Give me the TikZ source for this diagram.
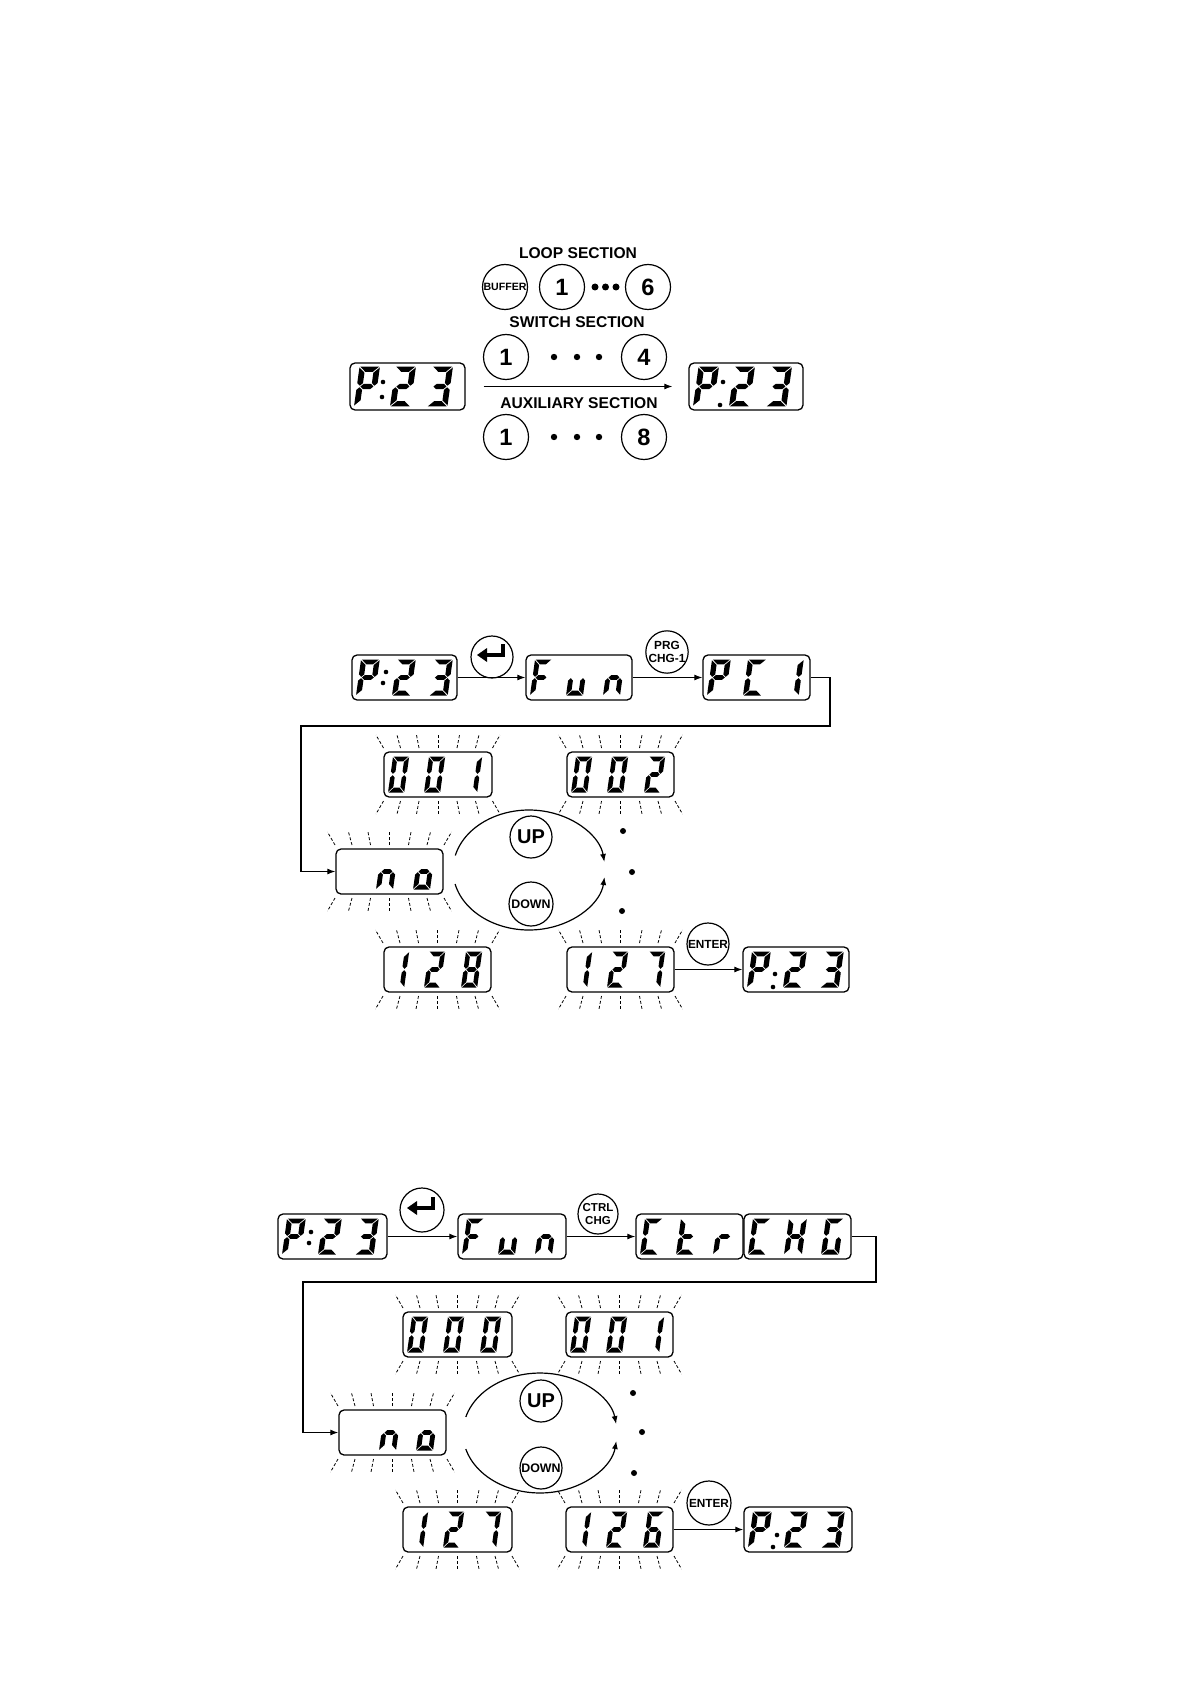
\documentclass[tikz,border=0pt]{standalone}
\usepackage{fontspec}
\setmainfont{Liberation Sans}
\usetikzlibrary{arrows.meta,calc}

\tikzset{
  lcdbox/.style={draw, rounded corners=2.5pt, line width=0.65pt, inner sep=0pt},
  btn/.style={draw, circle, line width=0.6pt, inner sep=0pt, font=\bfseries},
  flow/.style={line width=0.6pt, -{Latex[length=4pt,width=3pt]}},
  ray/.style={line width=0.4pt, dash pattern=on 1.5pt off 1pt},
  sectitle/.style={font=\bfseries\fontsize{7.8}{9}\selectfont, inner sep=0pt},
  bignum/.style={btn, minimum size=22.5pt, font=\bfseries\fontsize{11.8}{13}\selectfont},
  smallkey/.style={btn, align=center, font=\bfseries\fontsize{5.9}{6.4}\selectfont},
}

% seven-segment pieces (local units: px, y up), width 17, height 36, thickness 4.8
\def\SGa{\fill (0.7,36) -- (16.3,36) -- (11.5,31.2) -- (5.5,31.2) -- cycle;}
\def\SGd{\fill (0.7,0) -- (16.3,0) -- (11.5,4.8) -- (5.5,4.8) -- cycle;}
\def\SGg{\fill (3.1,18) -- (5.5,20.4) -- (11.5,20.4) -- (13.9,18) -- (11.5,15.6) -- (5.5,15.6) -- cycle;}
\def\SGf{\fill (0,35.3) -- (4.8,30.5) -- (4.8,21.1) -- (2.4,18.7) -- (0,21.1) -- cycle;}
\def\SGe{\fill (0,0.7) -- (4.8,5.5) -- (4.8,14.9) -- (2.4,17.3) -- (0,14.9) -- cycle;}
\def\SGb{\fill (17,35.3) -- (12.2,30.5) -- (12.2,21.1) -- (14.6,18.7) -- (17,21.1) -- cycle;}
\def\SGc{\fill (17,0.7) -- (12.2,5.5) -- (12.2,14.9) -- (14.6,17.3) -- (17,14.9) -- cycle;}

\def\chP{\SGa\SGb\SGf\SGg\SGe}
\def\chTwo{\SGa\SGb\SGg\SGe\SGd}
\def\chThree{\SGa\SGb\SGg\SGc\SGd}
\def\chF{\SGa\SGf\SGg\SGe}
\def\chu{\SGe\SGd\SGc}
\def\chn{\SGe\SGg\SGc}
\def\cho{\SGg\SGc\SGd\SGe}
\def\chC{\SGa\SGf\SGe\SGd}
\def\chOne{\SGb\SGc}
\def\chZero{\SGa\SGb\SGc\SGd\SGe\SGf}
\def\chSix{\SGa\SGf\SGg\SGe\SGd\SGc}
\def\chSeven{\SGa\SGb\SGc}
\def\chEight{\SGa\SGb\SGc\SGd\SGe\SGf\SGg}
\def\cht{\SGf\SGg\SGe\SGd}
\def\chr{\SGe\SGg}
\def\chH{\SGb\SGc\SGe\SGf\SGg}
\def\chG{\SGa\SGf\SGe\SGd\SGc}

% #1 xscale, #2 yscale, #3 x, #4 baseline y, #5 glyph
\newcommand\dig[5]{%
  \begin{scope}[shift={(#3,#4)}, x={(#1*0.5pt,0pt)}, y={(#2*0.07pt,#2*0.5pt)}]
    #5
  \end{scope}}

\def\lcdh{45}
\def\lcdys{1}
% name, left, top, width, xscale, d1, d2, d3
\newcommand\lcd[8]{%
  \node[lcdbox, minimum width=#4*0.5pt, minimum height=\lcdh*0.5pt] (#1) at (#2+#4/2, #3+\lcdh/2) {};
  \ifx\relax#6\relax\else\dig{#5}{\lcdys}{#2+4}{#3+\lcdh/2+18*\lcdys}{#6}\fi
  \ifx\relax#7\relax\else\dig{#5}{\lcdys}{#2+40}{#3+\lcdh/2+18*\lcdys}{#7}\fi
  \ifx\relax#8\relax\else\dig{#5}{\lcdys}{#2+77}{#3+\lcdh/2+18*\lcdys}{#8}\fi
}
\newcommand\colondots[4]{\fill (#1,#2) circle (2.3); \fill (#3,#4) circle (2.3);}
% left, top, width
\newcommand\rays[3]{%
  \foreach \b/\t in {-54.5/-62,-37.5/-41,-19/-21.5,0/0,19/21.5,37.5/41,54.5/62}{
    \draw[ray] (#1+#3/2+\b, #2-4) -- (#1+#3/2+\t, #2-17);
    \draw[ray] (#1+#3/2+\b, #2+\lcdh+4) -- (#1+#3/2+\t, #2+\lcdh+17);
  }}
\newcommand\entersym[1]{%
  \draw[line width=2pt] ([shift={(10.5,-13)}]#1.center) -- ([shift={(10.5,-2)}]#1.center) -- ([shift={(-6,-2)}]#1.center);
  \fill ([shift={(-15,-2)}]#1.center) -- ([shift={(-5,-9)}]#1.center) -- ([shift={(-5,5)}]#1.center) -- cycle;}

\begin{document}
\begin{tikzpicture}[x=0.5pt, y=-0.5pt]
\useasboundingbox (0,0) rectangle (1190,1684);
\fill[white] (0,0) rectangle (1190,1684);

%================ Section 1 =================
\def\lcdh{47}\def\lcdys{1.1}
\lcd{sA}{350}{363}{115}{1.2}{\chP}{\chTwo}{\chThree}
\colondots{383}{382}{382}{397}
\lcd{sB}{689}{363}{114}{1.2}{\chP}{\chTwo}{\chThree}
\colondots{723}{382}{720}{405}

\node[sectitle] (loopT) at (578,253) {LOOP SECTION};
\node[btn, minimum size=22.5pt, font=\bfseries\fontsize{5.3}{6}\selectfont] (buf) at (505,287) {BUFFER};
\node[bignum] (loop1) at (562,287) {1};
\foreach \xx in {595,605.5,616} \fill (\xx,287) circle (3.5);
\node[bignum] (loop6) at (648,287) {6};

\node[sectitle] (swT) at (577,322) {SWITCH SECTION};
\node[bignum] (sw1) at (506,357) {1};
\foreach \xx in {554,577,599} \fill (\xx,357) circle (3.2);
\node[bignum] (sw4) at (644,357) {4};

\draw[flow, shorten <=9pt, shorten >=8pt] (sA.east) -- (sB.west);

\node[sectitle] (auxT) at (579,403) {AUXILIARY SECTION};
\node[bignum] (aux1) at (506,437) {1};
\foreach \xx in {554,577,599} \fill (\xx,437) circle (3.2);
\node[bignum] (aux8) at (644,437) {8};

%================ Section 2 =================
\def\lcdh{45}\def\lcdys{1}
\lcd{pA}{352}{655}{105}{1.1}{\chP}{\chTwo}{\chThree}
\colondots{386}{672}{383}{683}
\node[btn, minimum size=21pt] (entA) at (492,657) {};
\entersym{entA}
\lcd{funA}{526}{655}{106}{1.0}{\chF}{\chu}{\chn}
\node[smallkey, minimum size=21pt] (prg) at (667,652) {PRG\\CHG-1};
\lcd{pcA}{703}{655}{107}{1.1}{\chP}{\chC}{\chOne}
\draw[flow] (pA) -- (funA);
\draw[flow] (funA) -- (pcA);

\lcd{noA}{336}{849}{107}{1.0}{}{\chn}{\cho}
\rays{336}{849}{107}
\coordinate (cA1) at (830,726);
\coordinate (cA2) at (301,726);
\draw[flow] (pcA.east) -| (cA1) -- (cA2) |- (noA.west);

\lcd{vA1}{384}{752}{108}{0.95}{\chZero}{\chZero}{\chOne}
\rays{384}{752}{108}
\lcd{vA2}{567}{752}{107}{0.95}{\chZero}{\chZero}{\chTwo}
\rays{567}{752}{107}
\lcd{vA3}{384}{947}{107}{0.95}{\chOne}{\chTwo}{\chEight}
\rays{384}{947}{107}
\lcd{vA4}{567}{947}{107}{0.95}{\chOne}{\chTwo}{\chSeven}
\rays{567}{947}{107}
\lcd{fA}{743}{947}{106}{1.1}{\chP}{\chTwo}{\chThree}
\colondots{775}{974}{773}{987}
\node[smallkey, minimum size=21pt] (enterA) at (708,944) {ENTER};
\draw[flow] (vA4) -- (fA);

\node[btn, minimum size=21pt, font=\bfseries\fontsize{10}{11}\selectfont] (upA) at (531,837) {UP};
\node[btn, minimum size=22pt, font=\bfseries\fontsize{6.2}{7}\selectfont] (downA) at (531,904) {DOWN};
\draw[flow] (455.3,855.5) arc[start angle=-166, end angle=-7.7, x radius=76, y radius=60];
\draw[flow] (455.1,884) arc[start angle=166.5, end angle=6.7, x radius=76, y radius=60];
\fill (623,831) circle (3);
\fill (632,872) circle (3);
\fill (622,911) circle (3);

%================ Section 3 =================
\lcd{pB}{278}{1214}{109}{1.1}{\chP}{\chTwo}{\chThree}
\colondots{311}{1232}{309}{1243}
\node[btn, minimum size=22pt] (entB) at (422,1210) {};
\entersym{entB}
\lcd{funB}{458}{1214}{108}{1.0}{\chF}{\chu}{\chn}
\node[smallkey, minimum size=20pt, font=\bfseries\fontsize{5.75}{6.4}\selectfont] (ctrl) at (598,1214) {CTRL\\CHG};
\lcd{ctrB}{636}{1214}{107}{1.05}{\chC}{\cht}{\chr}
\lcd{chgB}{744}{1214}{107}{1.05}{\chC}{\chH}{\chG}
\draw[flow] (pB) -- (funB);
\draw[flow] (funB) -- (ctrB);

\lcd{noB}{339}{1410}{107}{1.0}{}{\chn}{\cho}
\rays{339}{1410}{107}
\coordinate (cB1) at (876,1282);
\coordinate (cB2) at (303,1282);
\draw[flow] (chgB.east) -| (cB1) -- (cB2) |- (noB.west);

\lcd{vB1}{403}{1312}{109}{0.95}{\chZero}{\chZero}{\chZero}
\rays{403}{1312}{109}
\lcd{vB2}{566}{1312}{107}{0.95}{\chZero}{\chZero}{\chOne}
\rays{566}{1312}{107}
\lcd{vB3}{403}{1507}{109}{0.95}{\chOne}{\chTwo}{\chSeven}
\rays{403}{1507}{109}
\lcd{vB4}{566}{1507}{107}{0.95}{\chOne}{\chTwo}{\chSix}
\rays{566}{1507}{107}
\lcd{fB}{744}{1507}{108}{1.1}{\chP}{\chTwo}{\chThree}
\colondots{777}{1535}{773}{1547}
\node[smallkey, minimum size=22pt] (enterB) at (709,1503) {ENTER};
\draw[flow] (vB4) -- (fB);

\node[btn, minimum size=21pt, font=\bfseries\fontsize{10}{11}\selectfont] (upB) at (541,1401) {UP};
\node[btn, minimum size=21pt, font=\bfseries\fontsize{6.2}{7}\selectfont] (downB) at (541,1468) {DOWN};
\draw[flow] (465.8,1417) arc[start angle=-164.5, end angle=-8.6, x radius=77, y radius=60];
\draw[flow] (465.8,1449) arc[start angle=164.5, end angle=7.7, x radius=77, y radius=60];
\fill (633,1393) circle (3);
\fill (642,1432) circle (3);
\fill (634,1473) circle (3);
\end{tikzpicture}
\end{document}
